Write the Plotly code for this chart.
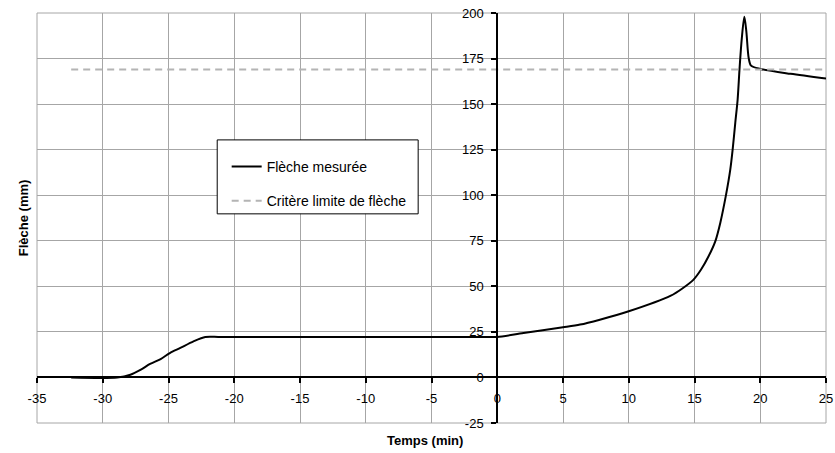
import plotly.graph_objects as go

# Data
temps = [-32.4, -28.9, -27.9, -27.1, -26.4, -25.6, -24.9, -24.1, -23.1, -22.2, -21.0,
         -1.0, 0, 2, 5, 6.3, 7.8, 10, 13.2, 14.05, 14.93, 15.5, 16.07, 16.58, 16.96,
         17.4, 17.72, 17.9, 18.1, 18.28, 18.43, 18.6, 18.79, 18.94, 19.12, 19.3,
         20.0, 22.3, 25.0]
fleche = [0, 0, 1.5, 4.3, 7.4, 10.1, 13.4, 16.2, 19.8, 22.2, 22.2,
          22.2, 22.2, 24.4, 27.5, 29, 31.7, 36.3, 44.9, 48.7, 53.7, 59.2, 66.5, 74.7, 84.8,
          100.3, 114, 125, 139.7, 152.5, 169.9, 186.3, 197.9, 190, 175.3, 171.1,
          169.3, 166.6, 164]
critere_t = [-32.4, 25]
critere_v = [169, 169]

x_ticks = list(range(-35, 30, 5))
y_ticks = list(range(-25, 225, 25))
x_range = [-35, 25]
y_range = [-25, 200]

FONT = "Liberation Sans, Arial, sans-serif"
GRID = "#a6a6a6"

fig = go.Figure()
fig.add_trace(go.Scatter(x=temps, y=fleche, mode="lines", name="Flèche mesurée",
                         line=dict(color="black", width=2, shape="spline", smoothing=0.8),
                         legendgroup="a"))
fig.add_trace(go.Scatter(x=critere_t, y=critere_v, mode="lines",
                         name="Critère limite de flèche", legendgroup="b",
                         line=dict(color="#b4b4b4", width=2, dash="7px,5px")))

xpos = (0 - x_range[0]) / (x_range[1] - x_range[0])
ypos = (0 - y_range[0]) / (y_range[1] - y_range[0])

fig.update_layout(
    width=835, height=453,
    margin=dict(l=37, r=9, t=13, b=30),
    paper_bgcolor="white", plot_bgcolor="white",
    font=dict(family=FONT, size=13, color="black"),
    showlegend=True,
    legend=dict(x=0.2404, y=0.6637, xanchor="left", yanchor="top",
                borderwidth=0, bgcolor="rgba(0,0,0,0)",
                tracegroupgap=13, traceorder="grouped",
                font=dict(family=FONT, size=14, color="black")),
    xaxis=dict(range=x_range, tickvals=x_ticks, ticktext=[str(v) for v in x_ticks],
               showgrid=True, gridcolor=GRID, gridwidth=1, zeroline=False,
               showline=True, linecolor="black", linewidth=2,
               ticks="outside", ticklen=5, tickcolor="black", tickwidth=2,
               ticklabelstandoff=4, ticklabeloverflow="allow",
               anchor="free", position=ypos, automargin=False,
               tickfont=dict(family=FONT, size=13, color="black")),
    yaxis=dict(range=y_range, tickvals=y_ticks, ticktext=[str(v) for v in y_ticks],
               showgrid=True, gridcolor=GRID, gridwidth=1, zeroline=False,
               showline=True, linecolor="black", linewidth=2,
               ticks="outside", ticklen=5, tickcolor="black", tickwidth=2,
               ticklabelstandoff=5, ticklabeloverflow="allow",
               anchor="free", position=xpos, automargin=False,
               tickfont=dict(family=FONT, size=13, color="black")),
    shapes=[
        dict(type="rect", xref="paper", yref="paper", x0=0, y0=0, x1=1, y1=1,
             line=dict(color=GRID, width=1), layer="below"),
        dict(type="rect", xref="paper", yref="paper", x0=0.2284, x1=0.4831,
             y0=0.5101, y1=0.6905, line=dict(color="black", width=1),
             fillcolor="white", layer="above"),
    ],
    annotations=[
        dict(text="<b>Temps (min)</b>", xref="paper", yref="paper", x=0.4916, y=-0.043,
             showarrow=False, xanchor="center", yanchor="middle",
             font=dict(family=FONT, size=13, color="black")),
        dict(text="<b>Flèche (mm)</b>", xref="paper", yref="paper", x=-0.0175, y=0.5,
             showarrow=False, xanchor="center", yanchor="middle", textangle=-90,
             font=dict(family=FONT, size=13, color="black")),
    ],
)

# remove the default page margin so the figure fills the window exactly
fig.write_html("out.html", config={"displayModeBar": False},
               post_script="document.body.style.margin='0';document.body.style.overflow='hidden';")
